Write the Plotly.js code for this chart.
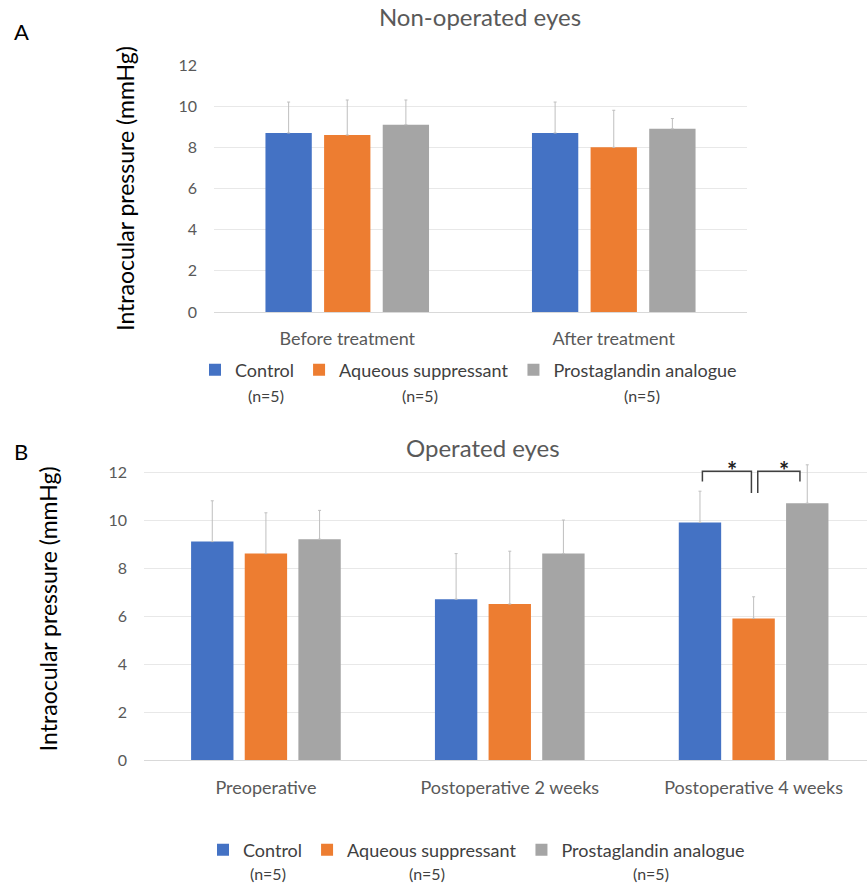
<!DOCTYPE html>
<html>
<head>
<meta charset="utf-8">
<script src="https://cdn.plot.ly/plotly-3.0.1.min.js"></script>
<style>html,body{margin:0;padding:0;background:#fff;}#chart{width:867px;height:888px;}</style>
</head>
<body>
<div id="chart"></div>
<script>
// ---- Data ----
const groups = ["Control", "Aqueous suppressant", "Prostaglandin analogue"];
const groupN = ["(n=5)", "(n=5)", "(n=5)"];
const colors = ["#4472C4", "#ED7D31", "#A5A5A5"];

const catsA = ["Before treatment", "After treatment"];
const meanA_control = [8.7, 8.7];
const sdA_control = [1.5, 1.5];
const meanA_aqueous = [8.6, 8.0];
const sdA_aqueous = [1.7, 1.8];
const meanA_prosta = [9.1, 8.9];
const sdA_prosta = [1.2, 0.5];

const catsB = ["Preoperative", "Postoperative 2 weeks", "Postoperative 4 weeks"];
const meanB_control = [9.1, 6.7, 9.9];
const sdB_control = [1.7, 1.9, 1.3];
const meanB_aqueous = [8.6, 6.5, 5.9];
const sdB_aqueous = [1.7, 2.2, 0.9];
const meanB_prosta = [9.2, 8.6, 10.7];
const sdB_prosta = [1.2, 1.4, 1.6];

const yTicks = [0, 2, 4, 6, 8, 10, 12];

// ---- Layout helpers ----
const W = 867, H = 888;
const FONT = "Lato, 'Open Sans', sans-serif";
const px = x => x / W;
const py = y => 1 - y / H;

const meansA = [meanA_control, meanA_aqueous, meanA_prosta];
const sdsA = [sdA_control, sdA_aqueous, sdA_prosta];
const meansB = [meanB_control, meanB_aqueous, meanB_prosta];
const sdsB = [sdB_control, sdB_aqueous, sdB_prosta];

const errStyle = {type: "data", symmetric: false, color: "#BFBFBF", thickness: 1, width: 1.5};

const traces = [];
groups.forEach((g, i) => {
  traces.push({
    type: "bar", name: g, x: catsA, y: meansA[i],
    xaxis: "x", yaxis: "y", legend: "legend",
    marker: {color: colors[i]},
    error_y: Object.assign({}, errStyle, {array: sdsA[i], arrayminus: sdsA[i].map(() => 0)}),
    cliponaxis: false, hoverinfo: "y"
  });
});
groups.forEach((g, i) => {
  traces.push({
    type: "bar", name: g, x: catsB, y: meansB[i],
    xaxis: "x2", yaxis: "y2", legend: "legend2",
    marker: {color: colors[i]},
    error_y: Object.assign({}, errStyle, {array: sdsB[i], arrayminus: sdsB[i].map(() => 0)}),
    cliponaxis: false, hoverinfo: "y"
  });
});

const BARGAP = 0.34, GROUPGAP = 0.21;
const slot = (1 - BARGAP) / 3;

const tickFont = {family: FONT, size: 16, color: "#595959"};
const xTickFont = {family: FONT, size: 18, color: "#595959"};
const yTitleFont = {family: FONT, size: 23, color: "#000000"};

// significance brackets on last category of panel B
const sigIdx = 2;
const cC = sigIdx - slot, cA = sigIdx, cP = sigIdx + slot;
const yTop = 12.03, yLegOuter = 11.6, yLegInner = 11.13;
const brLine = {color: "#404040", width: 1.5};
const lx1 = cC + 0.01, lx2 = cA - 0.009, rx1 = cA + 0.017, rx2 = cP - 0.03;
const shapes = [
  {type: "path", xref: "x2", yref: "y2", line: brLine,
   path: `M${lx1},${yLegOuter} L${lx1},${yTop} L${lx2},${yTop} L${lx2},${yLegInner}`},
  {type: "path", xref: "x2", yref: "y2", line: brLine,
   path: `M${rx1},${yLegInner} L${rx1},${yTop} L${rx2},${yTop} L${rx2},${yLegOuter}`}
];

const annotations = [
  {text: "A", xref: "paper", yref: "paper", x: px(12), y: py(32), xanchor: "left", yanchor: "middle",
   showarrow: false, font: {family: FONT, size: 22, color: "#000"}},
  {text: "B", xref: "paper", yref: "paper", x: px(12), y: py(451), xanchor: "left", yanchor: "middle",
   showarrow: false, font: {family: FONT, size: 22, color: "#000"}},
  {text: "Operated eyes", xref: "paper", yref: "paper", x: px(483), y: py(447), xanchor: "center", yanchor: "middle",
   showarrow: false, font: {family: FONT, size: 24, color: "#595959"}},
  {text: "<b>*</b>", xref: "x2", yref: "y2", x: (lx1 + lx2) / 2 + 0.02, y: 12.05, yanchor: "middle", showarrow: false,
   font: {family: FONT, size: 24, color: "#222"}},
  {text: "<b>*</b>", xref: "x2", yref: "y2", x: (rx1 + rx2) / 2 + 0.02, y: 12.05, yanchor: "middle", showarrow: false,
   font: {family: FONT, size: 24, color: "#222"}}
];
const nPosA = [266, 420, 642], nPosB = [268, 427, 651];
groupN.forEach((t, i) => {
  annotations.push({text: t, xref: "paper", yref: "paper", x: px(nPosA[i]), y: py(395), xanchor: "center", yanchor: "middle",
    showarrow: false, font: {family: FONT, size: 16, color: "#404040"}});
  annotations.push({text: t, xref: "paper", yref: "paper", x: px(nPosB[i]), y: py(873), xanchor: "center", yanchor: "middle",
    showarrow: false, font: {family: FONT, size: 16, color: "#404040"}});
});

const layout = {
  width: W, height: H,
  margin: {l: 0, r: 0, t: 0, b: 0},
  paper_bgcolor: "#ffffff", plot_bgcolor: "#ffffff",
  font: {family: FONT},
  title: {text: "Non-operated eyes", x: px(480), xanchor: "center", xref: "paper",
          y: py(18), yanchor: "middle", yref: "paper",
          font: {family: FONT, size: 24, color: "#595959"}},
  barmode: "group", bargap: BARGAP, bargroupgap: GROUPGAP,
  showlegend: true,
  xaxis: {domain: [px(214), px(747)], anchor: "y", type: "category",
          showgrid: false, showline: true, linecolor: "#D9D9D9", linewidth: 1,
          ticks: "", tickfont: xTickFont, ticklabelstandoff: 10, fixedrange: true},
  yaxis: {domain: [py(312), py(65)], anchor: "x", range: [0, 12],
          tickvals: yTicks, ticktext: yTicks.map(String),
          showgrid: true, gridcolor: "#E8E8E8", zeroline: false, showline: false,
          ticks: "", tickfont: tickFont, ticklabelstandoff: 16,
          title: {text: "Intraocular pressure (mmHg)", font: yTitleFont, standoff: 37}, fixedrange: true},
  xaxis2: {domain: [px(144), 1], anchor: "y2", type: "category", range: [-0.5, 2.465],
          showgrid: false, showline: true, linecolor: "#D9D9D9", linewidth: 1,
          ticks: "", tickfont: xTickFont, ticklabelstandoff: 11, fixedrange: true},
  yaxis2: {domain: [py(760), py(760 - 12.6 * 24)], anchor: "x2", range: [0, 12.6],
          tickvals: yTicks, ticktext: yTicks.map(String),
          showgrid: true, gridcolor: "#E8E8E8", zeroline: false, showline: false,
          ticks: "", tickfont: tickFont, ticklabelstandoff: 16,
          title: {text: "Intraocular pressure (mmHg)", font: yTitleFont, standoff: 44}, fixedrange: true},
  legend: {orientation: "h", x: px(195), y: py(370), xanchor: "left", yanchor: "middle",
           font: {family: FONT, size: 18, color: "#404040"}, bgcolor: "rgba(0,0,0,0)", traceorder: "normal"},
  legend2: {orientation: "h", x: px(203), y: py(850), xanchor: "left", yanchor: "middle",
           font: {family: FONT, size: 18, color: "#404040"}, bgcolor: "rgba(0,0,0,0)", traceorder: "normal"},
  shapes: shapes,
  annotations: annotations
};

Plotly.newPlot("chart", traces, layout, {displayModeBar: false, staticPlot: true});
</script>
</body>
</html>
